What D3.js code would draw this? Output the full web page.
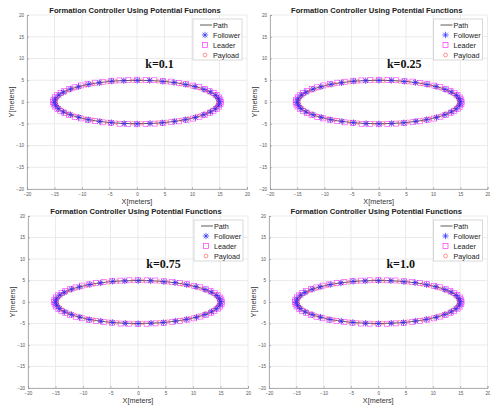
<!DOCTYPE html>
<html>
<head>
<meta charset="utf-8">
<script src="https://cdn.jsdelivr.net/npm/d3@7/dist/d3.min.js"></script>
<style>
  html, body { margin: 0; padding: 0; background: #fff; }
  svg { display: block; }
</style>
</head>
<body>
<svg id="chart" width="490" height="410"></svg>
<script>
// Gain values shown on each subplot
const kLabels = ["k=0.1", "k=0.25", "k=0.75", "k=1.0"];
const titleText = "Formation Controller Using Potential Functions";
const tickValues = [-20, -15, -10, -5, 0, 5, 10, 15, 20];
const legendNames = ["Path", "Follower", "Leader", "Payload"];

// Reference path (elliptical trajectory)
const pathX = [15.00, 14.77, 14.10, 12.99, 11.49, 9.64, 7.50, 5.13, 2.60, 0.00,
  -2.60, -5.13, -7.50, -9.64, -11.49, -12.99, -14.10, -14.77, -15.00,
  -14.77, -14.10, -12.99, -11.49, -9.64, -7.50, -5.13, -2.60, 0.00,
  2.60, 5.13, 7.50, 9.64, 11.49, 12.99, 14.10, 14.77];
const pathY = [0.00, 0.87, 1.71, 2.50, 3.21, 3.83, 4.33, 4.70, 4.92, 5.00,
  4.92, 4.70, 4.33, 3.83, 3.21, 2.50, 1.71, 0.87, 0.00,
  -0.87, -1.71, -2.50, -3.21, -3.83, -4.33, -4.70, -4.92, -5.00,
  -4.92, -4.70, -4.33, -3.83, -3.21, -2.50, -1.71, -0.87];

// Follower robot positions
const followerX = [15.05, 14.80, 14.30, 13.32, 12.18, 10.55, 8.86, 6.75, 4.70, 2.30,
  0.05, -2.40, -4.60, -6.85, -8.78, -10.65, -12.10, -13.40, -14.22, -14.85,
  -15.05, -14.78, -14.30, -13.35, -12.10, -10.58, -8.85, -6.78, -4.66, -2.32,
  0.03, 2.38, 4.62, 6.84, 8.80, 10.63, 12.16, 13.35, 14.25, 14.86];
const followerY = [0.05, 0.80, 1.52, 2.30, 2.90, 3.56, 4.02, 4.50, 4.72, 4.97,
  4.96, 4.90, 4.80, 4.42, 4.08, 3.50, 2.98, 2.24, 1.58, 0.75,
  -0.05, -0.80, -1.53, -2.30, -2.92, -3.52, -4.08, -4.45, -4.75, -4.95,
  -5.02, -4.92, -4.78, -4.42, -4.06, -3.55, -2.92, -2.28, -1.55, -0.76];

// Leader robot positions
const leaderX = [15.25, 15.15, 14.95, 14.48, 13.95, 13.18, 12.36, 11.30, 10.22, 8.94,
  7.65, 6.18, 4.73, 3.15, 1.60, 0.02, -1.57, -3.19, -4.70, -6.22,
  -7.61, -8.98, -10.18, -11.35, -12.32, -13.23, -13.91, -14.52, -14.90, -15.19,
  -15.26, -15.15, -14.94, -14.48, -13.95, -13.19, -12.36, -11.31, -10.22, -8.94,
  -7.65, -6.18, -4.73, -3.15, -1.61, 0.01, 1.58, 3.19, 4.69, 6.22,
  7.61, 8.98, 10.18, 11.35, 12.32, 13.23, 13.91, 14.52, 14.90, 15.19];
const leaderY = [0.02, 0.55, 1.04, 1.60, 2.05, 2.57, 2.98, 3.43, 3.77, 4.15,
  4.40, 4.68, 4.83, 5.01, 5.05, 5.12, 5.06, 4.97, 4.87, 4.64,
  4.44, 4.11, 3.81, 3.39, 3.02, 2.53, 2.09, 1.56, 1.08, 0.51,
  -0.02, -0.55, -1.04, -1.60, -2.05, -2.57, -2.98, -3.43, -3.77, -4.15,
  -4.40, -4.68, -4.83, -5.01, -5.05, -5.12, -5.06, -4.97, -4.87, -4.64,
  -4.44, -4.11, -3.81, -3.39, -3.02, -2.53, -2.09, -1.56, -1.08, -0.51];

// Payload positions
const payloadX = [14.78, 14.62, 14.30, 13.82, 13.19, 12.41, 11.50, 10.47, 9.31, 8.06,
  6.72, 5.30, 3.83, 2.31, 0.77, -0.77, -2.31, -3.83, -5.30, -6.72,
  -8.06, -9.31, -10.47, -11.50, -12.41, -13.19, -13.82, -14.30, -14.62, -14.78,
  -14.78, -14.62, -14.30, -13.82, -13.19, -12.41, -11.50, -10.47, -9.31, -8.06,
  -6.72, -5.30, -3.83, -2.31, -0.77, 0.77, 2.31, 3.83, 5.30, 6.72,
  8.06, 9.31, 10.47, 11.50, 12.41, 13.19, 13.82, 14.30, 14.62, 14.78];
const payloadY = [0.26, 0.77, 1.27, 1.76, 2.22, 2.67, 3.08, 3.46, 3.81, 4.11,
  4.37, 4.57, 4.73, 4.84, 4.89, 4.89, 4.84, 4.73, 4.57, 4.37,
  4.11, 3.81, 3.46, 3.08, 2.67, 2.22, 1.76, 1.27, 0.77, 0.26,
  -0.26, -0.77, -1.27, -1.76, -2.22, -2.67, -3.08, -3.46, -3.81, -4.11,
  -4.37, -4.57, -4.73, -4.84, -4.89, -4.89, -4.84, -4.73, -4.57, -4.37,
  -4.11, -3.81, -3.46, -3.08, -2.67, -2.22, -1.76, -1.27, -0.77, -0.26];

const path = pathX.map((x, i) => [x, pathY[i]]);
const followers = followerX.map((x, i) => [x, followerY[i]]);
const leaders = leaderX.map((x, i) => [x, leaderY[i]]);
const payloads = payloadX.map((x, i) => [x, payloadY[i]]);

// Plot area of each subplot
const panels = [
  { x0: 27, x1: 247, y0: 15, y1: 189 },
  { x0: 270, x1: 487.5, y0: 15, y1: 189 },
  { x0: 28, x1: 248, y0: 216, y1: 388 },
  { x0: 269, x1: 487.5, y0: 216, y1: 388 }
];

const colors = { path: "#333333", follower: "#2a2aff", leader: "#ff33ff", payload: "#ff4d4d" };
const svg = d3.select("#chart");

function asterisk(g, cx, cy, r, color) {
  const d = r * 0.72;
  g.append("path")
    .attr("d", `M${cx - r},${cy}H${cx + r}M${cx},${cy - r}V${cy + r}` +
      `M${cx - d},${cy - d}L${cx + d},${cy + d}M${cx - d},${cy + d}L${cx + d},${cy - d}`)
    .attr("stroke", color).attr("stroke-width", 0.7).attr("fill", "none");
}

panels.forEach((p, pi) => {
  const x = d3.scaleLinear().domain([-20, 20]).range([p.x0, p.x1]);
  const y = d3.scaleLinear().domain([-20, 20]).range([p.y1, p.y0]);
  const g = svg.append("g");

  // grid
  g.append("g").selectAll("line.gx").data(tickValues).join("line")
    .attr("x1", d => x(d)).attr("x2", d => x(d))
    .attr("y1", p.y0).attr("y2", p.y1)
    .attr("stroke", "#e6e6e6").attr("stroke-width", 0.8);
  g.append("g").selectAll("line.gy").data(tickValues).join("line")
    .attr("x1", p.x0).attr("x2", p.x1)
    .attr("y1", d => y(d)).attr("y2", d => y(d))
    .attr("stroke", "#e6e6e6").attr("stroke-width", 0.8);

  // axes
  const xAxis = d3.axisBottom(x).tickValues(tickValues).tickSize(-2).tickPadding(4);
  const yAxis = d3.axisLeft(y).tickValues(tickValues).tickSize(-2).tickPadding(3);
  const gx = g.append("g").attr("transform", `translate(0,${p.y1})`).call(xAxis);
  const gy = g.append("g").attr("transform", `translate(${p.x0},0)`).call(yAxis);
  [gx, gy].forEach(a => {
    a.select(".domain").attr("stroke", "#a0a0a0").attr("stroke-width", 0.8);
    a.selectAll(".tick line").attr("stroke", "#909090").attr("stroke-width", 0.6);
    a.selectAll(".tick text").attr("fill", "#555").attr("font-size", 4.6)
      .attr("font-family", "Liberation Sans, Arial, sans-serif");
  });

  // title and axis labels
  g.append("text").attr("x", (p.x0 + p.x1) / 2 - 2).attr("y", p.y0 - 2)
    .attr("text-anchor", "middle").attr("font-family", "Liberation Sans, Arial, sans-serif")
    .attr("font-weight", "bold").attr("font-size", 7.6).attr("fill", "#222").text(titleText);
  g.append("text").attr("x", (p.x0 + p.x1) / 2).attr("y", p.y1 + 14.5)
    .attr("text-anchor", "middle").attr("font-family", "Liberation Sans, Arial, sans-serif")
    .attr("font-size", 7.2).attr("fill", "#333").text("X[meters]");
  g.append("text").attr("transform", `translate(${p.x0 - 13.5},${(p.y0 + p.y1) / 2}) rotate(-90)`)
    .attr("text-anchor", "middle").attr("font-family", "Liberation Sans, Arial, sans-serif")
    .attr("font-size", 7.2).attr("fill", "#333").text("Y[meters]");

  // path
  const line = d3.line().x(d => x(d[0])).y(d => y(d[1])).curve(d3.curveCardinalClosed);
  g.append("path").attr("d", line(path)).attr("fill", "none")
    .attr("stroke", colors.path).attr("stroke-width", 0.8);

  // markers
  const mk = g.append("g");
  leaders.forEach(d => {
    mk.append("rect").attr("x", x(d[0]) - 2.5).attr("y", y(d[1]) - 2.5)
      .attr("width", 5).attr("height", 5).attr("fill", "none")
      .attr("stroke", colors.leader).attr("stroke-width", 0.7).attr("opacity", 0.85);
  });
  payloads.forEach(d => {
    mk.append("circle").attr("cx", x(d[0])).attr("cy", y(d[1])).attr("r", 1.9)
      .attr("fill", "none").attr("stroke", colors.payload).attr("stroke-width", 0.6)
      .attr("opacity", 0.8);
  });
  followers.forEach(d => asterisk(mk, x(d[0]), y(d[1]), 3.2, colors.follower));

  // gain label
  g.append("text").attr("x", x(1.5)).attr("y", y(7.8))
    .attr("font-family", "Liberation Serif, Times New Roman, serif")
    .attr("font-weight", "bold").attr("font-size", 12).attr("fill", "#111").text(kLabels[pi]);

  // legend
  const lx = p.x1 - 54, ly = p.y0 + 4;
  const lg = g.append("g");
  lg.append("rect").attr("x", lx).attr("y", ly).attr("width", 49).attr("height", 41)
    .attr("fill", "#fff").attr("stroke", "#c8c8c8").attr("stroke-width", 0.7);
  legendNames.forEach((name, i) => {
    const cy = ly + 6 + i * 10;
    const sx = lx + 12;
    if (i === 0) {
      lg.append("line").attr("x1", lx + 7).attr("x2", lx + 19).attr("y1", cy).attr("y2", cy)
        .attr("stroke", colors.path).attr("stroke-width", 0.8);
    } else if (i === 1) {
      asterisk(lg, sx, cy, 3.2, colors.follower);
    } else if (i === 2) {
      lg.append("rect").attr("x", sx - 2.5).attr("y", cy - 2.5).attr("width", 5).attr("height", 5)
        .attr("fill", "none").attr("stroke", colors.leader).attr("stroke-width", 0.7);
    } else {
      lg.append("circle").attr("cx", sx).attr("cy", cy).attr("r", 1.9)
        .attr("fill", "none").attr("stroke", colors.payload).attr("stroke-width", 0.6);
    }
    lg.append("text").attr("x", lx + 20).attr("y", cy + 2.6)
      .attr("font-family", "Liberation Sans, Arial, sans-serif")
      .attr("font-size", 7.2).attr("fill", "#222").text(name);
  });
});
</script>
</body>
</html>
